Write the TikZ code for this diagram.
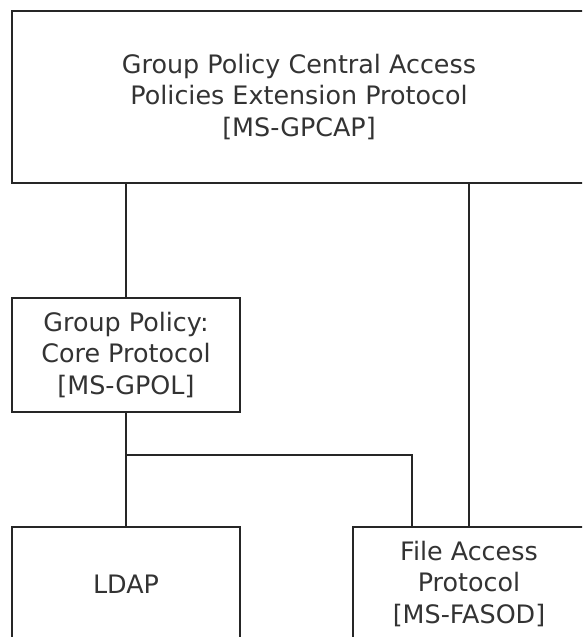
\documentclass[tikz,border=0pt]{standalone}
\usepackage{fontspec}
\setmainfont{DejaVu Sans}

\begin{document}
\begin{tikzpicture}
  [x=1pt,y=-1pt,line width=1.8pt,draw=black!85,
   every node/.style={draw,rectangle,align=center,inner sep=0pt,text=black!80,
     font=\fontsize{25.4}{31.5}\selectfont},
   small/.style={minimum width=228pt,minimum height=114pt}]
  \useasboundingbox (0,0) rectangle (582,637);
  \clip (0,0) rectangle (582,637);

  \node[minimum width=574pt,minimum height=172pt] (gpcap) at (299,97)
    {Group Policy Central Access\\Policies Extension Protocol\\{[MS-GPCAP]}};
  \node[small] (gpol)  at (126,355) {Group Policy:\\Core Protocol\\{[MS-GPOL]}};
  \node[small] (ldap)  at (126,584) {LDAP};
  \node[small,minimum width=232pt] (fasod) at (469,584) {File Access\\Protocol\\{[MS-FASOD]}};

  \coordinate (split) at (126,455);

  \foreach \to in {gpol,fasod}
    \draw (gpcap.south -| \to.north) -- (\to.north);
  \draw (gpol.south) -- (ldap.north);
  \draw (split) -| ([xshift=-57pt]fasod.north);

\end{tikzpicture}
\end{document}
